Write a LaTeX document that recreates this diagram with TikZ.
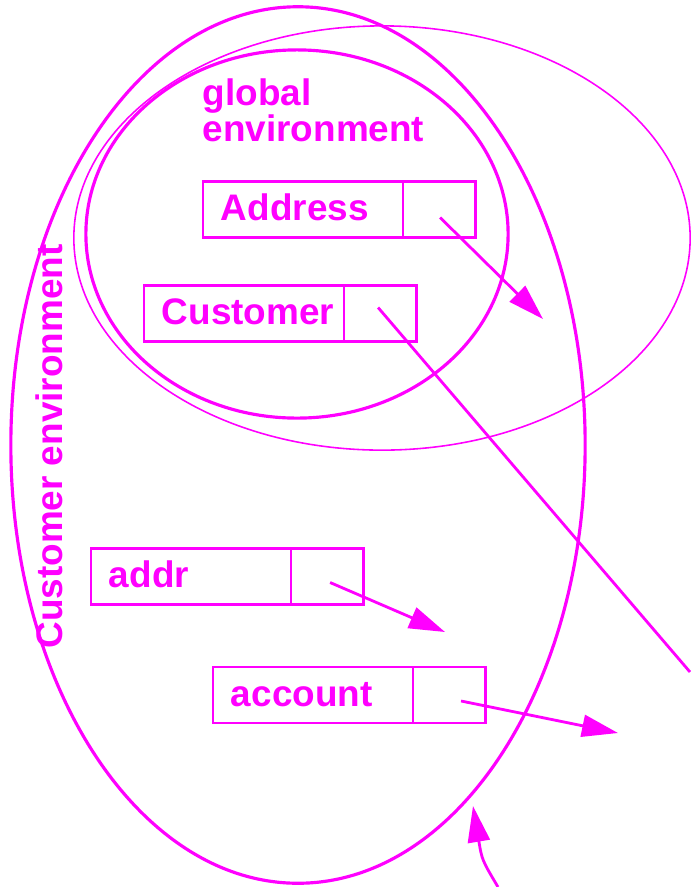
\documentclass[tikz,border=0pt]{standalone}
\usepackage{fontspec}
\setmainfont{Liberation Sans}
\usetikzlibrary{arrows.meta,positioning}
\definecolor{mag}{HTML}{FF00FF}
\tikzset{
  envline/.style={mag, line width=0.9pt},
  envthin/.style={mag, line width=0.45pt},
  namebox/.style={draw=mag, text=mag, line width=0.8pt, outer sep=0pt,
    minimum width=2cm, minimum height=0.56cm, text width=1.64cm,
    inner xsep=0.18cm, inner ysep=0pt, align=left,
    text height=0.26cm, text depth=0.04cm,
    font=\fontsize{10.5}{12}\selectfont\bfseries},
  valbox/.style={draw=mag, line width=0.8pt, outer sep=0pt,
    minimum width=0.72cm, minimum height=0.56cm, inner sep=0pt},
  ptr/.style={mag, line width=0.8pt, -{Triangle[length=3.6mm,width=2.2mm]}},
  lbl/.style={text=mag, inner sep=0pt, font=\fontsize{10.5}{10.3}\selectfont\bfseries},
}
\begin{document}
\begin{tikzpicture}[x=0.01cm, y=-0.01cm]
 \useasboundingbox (0,0) rectangle (690,887);
 \draw[envline] (298,445) ellipse [x radius=2.87cm, y radius=4.38cm];
 \draw[envthin] (382,238) ellipse [x radius=3.08cm, y radius=2.12cm];
 \draw[envline] (297,234) ellipse [x radius=2.11cm, y radius=1.84cm];

 \node[lbl, align=left, anchor=north west] (globallabel) at (202,78) {global\\environment};
 \node[lbl, rotate=90, anchor=base] (custenvlabel) at (62,446.5) {Customer environment};

 \node[namebox] (addressname) at (303,209.5) {Address};
 \node[valbox, right=0pt of addressname] (addressval) {};
 \node[namebox] (customername) at (244,313.5) {Customer};
 \node[valbox, right=0pt of customername] (customerval) {};
 \node[namebox] (addrname) at (191,576.5) {addr};
 \node[valbox, right=0pt of addrname] (addrval) {};
 \node[namebox] (accountname) at (313,695) {account};
 \node[valbox, right=0pt of accountname] (accountval) {};

 \coordinate (addresstip) at (543,319);
 \coordinate (customerend) at (690,672);
 \coordinate (addrtip) at (445,632);
 \coordinate (accounttip) at (618,733);
 \coordinate (backtail) at (498,887);
 \coordinate (backtip) at (473,806);

 \draw[ptr] ([shift={(1,8)}]addressval.center) -- (addresstip);
 \draw[mag, line width=0.8pt] ([shift={(-2,-6)}]customerval.center) -- (customerend);
 \draw[ptr] ([shift={(3,6)}]addrval.center) -- (addrtip);
 \draw[ptr] ([shift={(12,6)}]accountval.center) -- (accounttip);
 \draw[ptr] (backtail) .. controls (482,860) .. (backtip);
\end{tikzpicture}
\end{document}
